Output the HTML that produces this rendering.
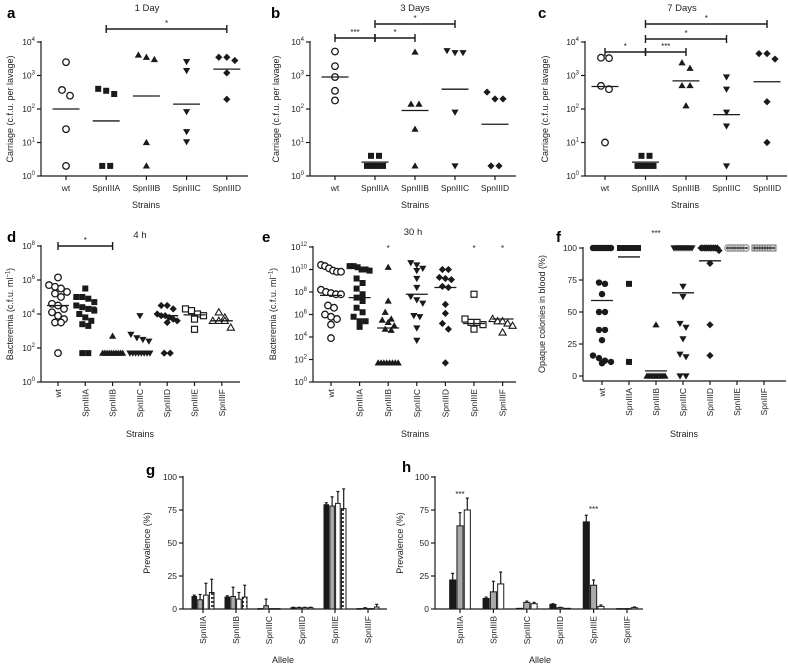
<!DOCTYPE html>
<html><head><meta charset="utf-8">
<style>
html,body{margin:0;padding:0;background:#fff;}
svg{display:block;font-family:"Liberation Sans",Arial,sans-serif;}
</style></head>
<body>
<svg id="fig" width="788" height="666" viewBox="0 0 788 666" xmlns="http://www.w3.org/2000/svg">
<defs>
<pattern id="hatch" width="5" height="4" patternUnits="userSpaceOnUse">
<rect x="0" y="0" width="5" height="4" fill="#fff"/>
<rect x="1" y="1.2" width="3" height="1.6" fill="#111"/>
</pattern>
</defs>
</svg>
<script>
// ---------------- DATA ----------------
const strains5 = ['wt','SpnIIIA','SpnIIIB','SpnIIIC','SpnIIID'];
const strains7 = ['wt','SpnIIIA','SpnIIIB','SpnIIIC','SpnIIID','SpnIIIE','SpnIIIF'];
const alleles = ['SpnIIIA','SpnIIIB','SpnIIIC','SpnIIID','SpnIIIE','SpnIIIF'];
const logTicks4 = [0,1,2,3,4];
const logTicks8 = [0,2,4,6,8];
const logTicks12 = [0,2,4,6,8,10,12];
const pctTicks = [0,25,50,75,100];

// panel a (c.f.u. per lavage)
const aValues = [[2500,250,370,25,2],[350,280,400,2,2],[4100,3000,3500,10,2],[2600,1400,83,21,10.5],[3500,2800,3500,1200,195]];
const aMedians = [100,44,245,140,1550];
// panel b
const bValues = [[5200,1900,900,350,180],[4,4,2,2,2,2],[5000,140,140,25,2],[5500,4800,4800,80,2],[200,200,320,2,2]];
const bMedians = [900,2.6,90,390,35];
// panel c
const cValues = [[3300,3400,490,390,10],[4,4,2,2,2,2],[2400,1650,500,500,125],[900,390,80,31,2],[4500,4500,3100,165,10]];
const cMedians = [470,2.6,690,68,650];
// panel d (log10 c.f.u./ml)
const dLog = [[6.15,5.7,5.6,5.5,5.3,5.2,5.0,4.6,4.5,4.3,4.1,3.9,3.7,3.5,3.5,1.7],
              [5.5,5.0,5.0,4.9,4.7,4.5,4.4,4.3,4.2,4.0,3.8,3.6,3.4,3.3,1.7,1.7],
              [2.7,1.7,1.7,1.7,1.7,1.7,1.7,1.7,1.7,1.7,1.7],
              [3.9,2.8,2.6,2.5,2.4,1.7,1.7,1.7,1.7,1.7,1.7,1.7,1.7],
              [4.5,4.5,4.3,4.0,3.9,3.9,3.8,3.7,3.6,3.5,1.7,1.7],
              [4.3,4.2,4.0,3.9,3.7,3.1],
              [4.1,3.8,3.6,3.6,3.6,3.2]];
const dMedians = [4.5,4.4,1.7,1.7,3.9,3.95,3.6];
// panel e (log10 c.f.u./ml)
const eLog = [[10.4,10.3,10.1,9.9,9.8,9.8,8.2,8.0,7.9,7.8,7.8,6.8,6.6,6.0,5.8,5.6,5.1,3.9],
              [10.3,10.3,10.2,10.0,10.0,9.9,9.2,8.8,8.3,7.8,7.5,7.2,6.6,6.2,5.8,5.4,5.4,4.9],
              [10.2,7.2,6.2,5.6,5.5,5.3,5.0,4.7,4.6,1.7,1.7,1.7,1.7,1.7,1.7,1.7,1.7],
              [10.6,10.4,10.1,9.9,9.2,8.4,7.6,7.3,7.0,5.9,5.8,4.8,3.7],
              [10.0,10.0,9.3,9.2,9.1,8.5,8.4,6.9,6.1,5.2,4.7,1.7],
              [7.8,5.6,5.3,5.3,5.1,4.7],
              [5.6,5.4,5.4,5.2,5.0,4.4]];
const eMedians = [7.7,7.5,4.8,7.8,8.4,5.2,5.6];
// panel f (% opaque)
const fValues = [[100,100,100,100,100,100,100,100,73,72,64,50,50,36,36,28,16,14,12,11,10],
                 [100,100,100,100,100,100,100,100,100,100,100,100,72,11],
                 [40,0,0,0,0,0,0,0,0,0,0],
                 [100,100,100,100,100,100,100,100,100,100,70,62,41,38,29,17,15,0,0],
                 [100,100,100,100,100,100,100,100,100,100,98,88,40,16],
                 [100,100,100,100,100,100,100,100],
                 [100,100,100,100,100,100,100,100]];
const fMedians = [59,93,4,65,90,100,100];
// panel g (prevalence %, 4 series + error)
const gS1 = [9.5,9,0.3,1,79,0.3];
const gS2 = [7,9.5,2.5,1,78,0.5];
const gS3 = [10.5,7.5,0.3,1,80,0.3];
const gS4 = [12.5,9,0.3,1,76,1.5];
const gE1 = [1,1,0,0.3,1.5,0];
const gE2 = [4,7,5,0.3,7,0.5];
const gE3 = [9,5,0,0.3,9,0];
const gE4 = [10,9,0,0.3,15,2];
// panel h (prevalence %, 3 series + error)
const hS1 = [22,8,0.5,3.5,66,0.3];
const hS2 = [63,13,5,1,18,0.3];
const hS3 = [75,19,4,0.5,2,1];
const hE1 = [5,1,0,0.5,5,0];
const hE2 = [10,8,1,0.3,4,0];
const hE3 = [9,9,1,0,1,0.5];

// ---------------- DRAWING ----------------
const NS='http://www.w3.org/2000/svg';
const svg=document.getElementById('fig');
const INK='#1a1a1a';
function mk(tag,attrs,parent){const e=document.createElementNS(NS,tag);for(const k in attrs)e.setAttribute(k,attrs[k]);(parent||svg).appendChild(e);return e;}
function txt(x,y,s,size,extra){const t=mk('text',Object.assign({x:x,y:y,'font-size':size,fill:'#222'},extra||{}));t.textContent=s;return t;}
function line(x1,y1,x2,y2,w){return mk('line',{x1:x1,y1:y1,x2:x2,y2:y2,stroke:INK,'stroke-width':w||1.2});}

function panelLetter(x,y,s){
  const t=txt(x,y,s,15,{'font-weight':'bold',fill:'#000'});
  
  
}
function title(x,y,s){
  const t=txt(x,y,s,9.5,{'text-anchor':'middle'});
  
  
}
function ytitle(x,y,s,sup){
  const t=mk('text',{x:0,y:0,'font-size':9,fill:'#222','text-anchor':'middle',transform:'translate('+x+','+y+') rotate(-90)'});
  const a=mk('tspan',{},t);a.textContent=s;
  if(sup){const b=mk('tspan',{dy:-3.5,'font-size':6},t);b.textContent=sup;const c=mk('tspan',{dy:3.5},t);c.textContent=')';}
  
  
}
function xtitle(x,y,s){
  const t=txt(x,y,s,9,{'text-anchor':'middle'});
  
  
}

function marker(type,x,y){
  let e;
  const up=(x)+','+(y-3.6)+' '+(x+3.6)+','+(y+2.6)+' '+(x-3.6)+','+(y+2.6);
  if(type==='oc'){e=mk('circle',{cx:x,cy:y,r:3.3,fill:'#fff',stroke:INK,'stroke-width':1.3});}
  else if(type==='gc'){e=mk('circle',{cx:x,cy:y,r:3.3,fill:'#ddd',stroke:'#999','stroke-width':1.2});}
  else if(type==='gs'){e=mk('rect',{x:x-3,y:y-3,width:6,height:6,fill:'#ccc',stroke:'#777','stroke-width':1});}
  else if(type==='fc'){e=mk('circle',{cx:x,cy:y,r:3.2,fill:INK});}
  else if(type==='sq'){e=mk('rect',{x:x-3,y:y-3,width:6,height:6,fill:INK});}
  else if(type==='osq'){e=mk('rect',{x:x-3,y:y-3,width:6,height:6,fill:'#fff',stroke:INK,'stroke-width':1.2});}
  else if(type==='tri'){e=mk('polygon',{points:up,fill:INK});}
  else if(type==='otri'){e=mk('polygon',{points:up,fill:'#fff',stroke:INK,'stroke-width':1.1});}
  else if(type==='dtri'){e=mk('polygon',{points:(x)+','+(y+3.6)+' '+(x+3.6)+','+(y-2.6)+' '+(x-3.6)+','+(y-2.6),fill:INK});}
  else {e=mk('polygon',{points:(x)+','+(y-3.6)+' '+(x+3.6)+','+(y)+' '+(x)+','+(y+3.6)+' '+(x-3.6)+','+(y),fill:INK});}
  
  
}

function jitter(ys,maxW,stepPx){
  const idx=ys.map((y,i)=>i).sort((a,b)=>ys[a]-ys[b]);
  const off=new Array(ys.length).fill(0);
  let cl=[];
  const flush=()=>{const n=cl.length;if(!n)return;const st=n>1?Math.min(stepPx,maxW/(n-1)):0;cl.forEach((id,k)=>{off[id]=(k-(n-1)/2)*st;});cl=[];};
  let start=null;
  idx.forEach(i=>{if(start===null||ys[i]-start>7){flush();start=ys[i];}cl.push(i);});
  flush();
  return off;
}

function logScale(yTop,yBot,min,max){return v=>yBot-(Math.log10(v)-min)/(max-min)*(yBot-yTop);}
function linScale(yTop,yBot,min,max){return v=>yBot-(v-min)/(max-min)*(yBot-yTop);}

function scatterPanel(p){
  const yAxisBottom=p.axisBottom||p.yBot;
  const ya=line(p.ax,p.yTop-1,p.ax,yAxisBottom);
  
  
  p.ticks.forEach(t=>{
    const y=p.tickY(t);
    line(p.ax-4,y,p.ax,y);
    const lab=mk('text',{x:p.ax-6,y:y+3,'font-size':8.5,fill:'#222','text-anchor':'end'});
    if(p.log){
      const a=mk('tspan',{},lab);a.textContent='10';
      const b=mk('tspan',{dy:-4,'font-size':6},lab);b.textContent=String(t);
    } else {lab.textContent=String(t);}
    
    
  });
  const xa=line(p.ax,yAxisBottom,p.xEnd,yAxisBottom);
  
  
  p.cats.forEach((c,i)=>{
    const x=p.x0+i*p.step;
    line(x,yAxisBottom,x,yAxisBottom+4);
    let lab;
    if(p.rot){
      lab=mk('text',{x:0,y:0,'font-size':8.5,fill:'#222','text-anchor':'end',transform:'translate('+(x+3)+','+(yAxisBottom+7)+') rotate(-90)'});
    } else {
      lab=mk('text',{x:x,y:yAxisBottom+15,'font-size':8.5,fill:'#222','text-anchor':'middle'});
    }
    lab.textContent=c;
    
    
    const ys=p.values[i].map(v=>p.ys(v));
    const off=jitter(ys,p.maxW,p.jStep);
    ys.forEach((y,k)=>marker(p.markers[i],x+off[k],y));
    const my=p.ys(p.medians[i]);
    const m=line(x-p.medW/2,my,x+p.medW/2,my,1.3);
    
    
  });
  (p.sig||[]).forEach(s=>{
    const x1=p.x0+s[0]*p.step,x2=p.x0+s[1]*p.step,y=s[2];
    const b=line(x1,y,x2,y,1.4);
    
    
    line(x1,y-4,x1,y+4,1.4);line(x2,y-4,x2,y+4,1.4);
    const st=txt((x1+x2)/2,y-3,s[3],8,{'text-anchor':'middle'});
    
    
  });
  (p.stars||[]).forEach(s=>{
    const st=txt(p.x0+s[0]*p.step,s[1],s[2],8,{'text-anchor':'middle'});
    
    
  });
}

const mk5=['oc','sq','tri','dtri','dia'];
const mk7=['oc','sq','tri','dtri','dia','osq','otri'];
const fMk=['fc','sq','tri','dtri','dia','gc','gs'];

// a
panelLetter(7,18,'a');title(147,11,'1 Day');
ytitle(13,109,'Carriage (c.f.u. per lavage)');
const sA=logScale(42,176,0,4);
scatterPanel({ax:41,yTop:42,yBot:176,xEnd:248,x0:66,step:40.2,cats:strains5,values:aValues,medians:aMedians,markers:mk5,
  ticks:logTicks4,log:true,ys:sA,tickY:t=>sA(Math.pow(10,t)),medW:27,maxW:16,jStep:8,sig:[[1,4,29,'*']]});
xtitle(146,208,'Strains');
// b
panelLetter(271,18,'b');title(415,11,'3 Days');
ytitle(279,109,'Carriage (c.f.u. per lavage)');
const sB=logScale(42,176,0,4);
scatterPanel({ax:310,yTop:42,yBot:176,xEnd:516,x0:335,step:40,cats:strains5,values:bValues,medians:bMedians,markers:mk5,
  ticks:logTicks4,log:true,ys:sB,tickY:t=>sB(Math.pow(10,t)),medW:27,maxW:16,jStep:8,sig:[[0,1,38,'***'],[1,2,38,'*'],[1,3,24,'*']]});
xtitle(415,208,'Strains');
// c
panelLetter(538,18,'c');title(682,11,'7 Days');
ytitle(548,109,'Carriage (c.f.u. per lavage)');
const sC=logScale(42,176,0,4);
scatterPanel({ax:585,yTop:42,yBot:176,xEnd:787,x0:605,step:40.5,cats:strains5,values:cValues,medians:cMedians,markers:mk5,
  ticks:logTicks4,log:true,ys:sC,tickY:t=>sC(Math.pow(10,t)),medW:27,maxW:16,jStep:8,sig:[[0,1,52,'*'],[1,2,52,'***'],[1,3,39,'*'],[1,4,24,'*']]});
xtitle(685,208,'Strains');
// d
panelLetter(7,242,'d');title(140,238,'4 h');
ytitle(13,314,'Bacteremia (c.f.u. ml','−1');
const sD=linScale(246,382,0,8);
scatterPanel({ax:41,yTop:246,yBot:382,xEnd:240,x0:58,step:27.3,cats:strains7,values:dLog,medians:dMedians,markers:mk7,
  ticks:logTicks8,log:true,ys:sD,tickY:sD,medW:22,maxW:20,jStep:6,rot:true,sig:[[0,2,246,'*']]});
xtitle(140,437,'Strains');
// e
panelLetter(262,242,'e');title(413,235,'30 h');
ytitle(276,314,'Bacteremia (c.f.u. ml','−1');
const sE=linScale(247,382,0,12);
scatterPanel({ax:313,yTop:247,yBot:382,xEnd:516,x0:331,step:28.6,cats:strains7,values:eLog,medians:eMedians,markers:mk7,
  ticks:logTicks12,log:true,ys:sE,tickY:sE,medW:22,maxW:20,jStep:6,rot:true,stars:[[2,251,'*'],[5,251,'*'],[6,251,'*']]});
xtitle(415,437,'Strains');
// f
panelLetter(556,242,'f');
ytitle(545,314,'Opaque colonies in blood (%)');
const sF=linScale(248,376,0,100);
scatterPanel({ax:583,yTop:248,yBot:376,axisBottom:381,xEnd:786,x0:602,step:27,cats:strains7,values:fValues,medians:fMedians,markers:fMk,
  ticks:pctTicks,log:false,ys:sF,tickY:sF,medW:22,maxW:18,jStep:6,rot:true,stars:[[2,236,'***']]});
xtitle(684,437,'Strains');

// bar panels
function barPanel(p){
  const ys=linScale(477,609,0,100);
  const ya=line(p.ax,476,p.ax,609);
  
  
  pctTicks.forEach(t=>{
    const y=ys(t);line(p.ax-4,y,p.ax,y);
    const lab=txt(p.ax-6,y+3,String(t),8.5,{'text-anchor':'end'});
    
    
  });
  const xa=line(p.ax,609,p.xEnd,609);
  
  
  const n=p.series.length;
  alleles.forEach((a,i)=>{
    const cx=p.x0+i*p.step;
    line(cx,609,cx,613);
    const lab=mk('text',{x:0,y:0,'font-size':8.5,fill:'#222','text-anchor':'end',transform:'translate('+(cx+3)+','+616+') rotate(-90)'});
    lab.textContent=a;
    
    
    p.series.forEach((s,k)=>{
      const bx=cx-(n*p.bw)/2+k*p.bw;
      const v=s[i],e=p.errs[k][i];
      const y=ys(v);
      const r=mk('rect',{x:bx+0.6,y:y,width:p.bw-1.2,height:Math.max(609-y,0.6),fill:p.fills[k],stroke:INK,'stroke-width':1});
      
      
      if(e>0){
        const ey=ys(v+e);
        const el=line(bx+p.bw/2,y,bx+p.bw/2,ey,1.2);
        
        
        line(bx+p.bw/2-1.5,ey,bx+p.bw/2+1.5,ey,1.2);
      }
    });
  });
  (p.stars||[]).forEach(s=>{
    const st=txt(p.x0+s[0]*p.step,s[1],s[2],8,{'text-anchor':'middle'});
    
    
  });
}
panelLetter(146,475,'g');
ytitle(150,543,'Prevalence (%)');
barPanel({ax:183,xEnd:387,x0:203,step:33,bw:5.8,series:[gS1,gS2,gS3,gS4],errs:[gE1,gE2,gE3,gE4],fills:['#1a1a1a','#aaa','#fff','url(#hatch)']});
xtitle(283,663,'Allele');
panelLetter(402,472,'h');
ytitle(403,543,'Prevalence (%)');
barPanel({ax:435,xEnd:643,x0:460,step:33.4,bw:7.3,series:[hS1,hS2,hS3],errs:[hE1,hE2,hE3],fills:['#1a1a1a','#aaa','#fff'],stars:[[0,497,'***'],[4,512,'***']]});
xtitle(540,663,'Allele');
</script>
</body></html>
